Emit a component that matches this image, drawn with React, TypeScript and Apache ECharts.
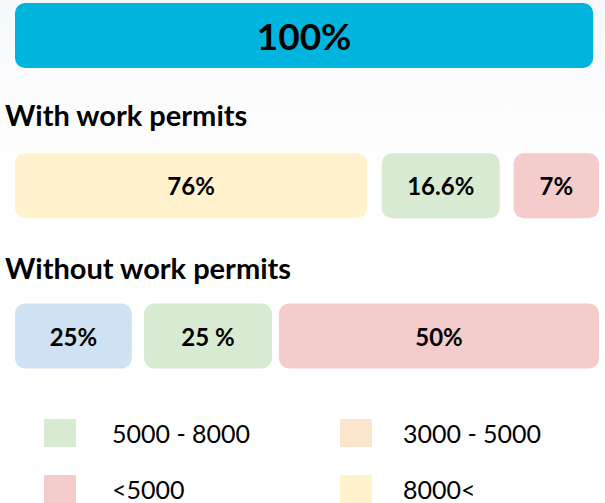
import React, { useEffect, useRef } from "react";
import * as echarts from "echarts";

// Rows of the chart (top to bottom)
const rows = ["Total", "With work permits", "Without work permits"];

// Segment extents on a 0–100 scale (as drawn), with their labels
const totalSpans = [[0, 99.0]];
const totalLabels = ["100%"];

const withPermitSpans = [[0, 60.3], [62.8, 83.0], [85.4, 100]];
const withPermitLabels = ["76%", "16.6%", "7%"];
const withPermitGroups = ["8000<", "5000 - 8000", "<5000"];

const withoutPermitSpans = [[0, 20.0], [22.1, 44.0], [45.2, 100]];
const withoutPermitLabels = ["25%", "25 %", "50%"];
const withoutPermitGroups = ["Other", "5000 - 8000", "<5000"];

// Salary groups and their colours
const groupNames = ["Total", "8000<", "5000 - 8000", "<5000", "3000 - 5000", "Other"];
const groupColors = ["#00B5DD", "#FFF2CC", "#D9EAD3", "#F4CCCC", "#FCE5CD", "#CFE2F3"];

const legendLeft = ["5000 - 8000", "<5000"];
const legendRight = ["3000 - 5000", "8000<"];

const FONT = "Lato, 'DejaVu Sans', sans-serif";

function buildData(group: string) {
  const out: any[] = [];
  if (group === "Total") {
    totalSpans.forEach((s, i) => out.push({ value: [s[0], s[1], rows[0]], label: totalLabels[i], big: true }));
  }
  withPermitGroups.forEach((g, i) => {
    if (g === group) out.push({ value: [withPermitSpans[i][0], withPermitSpans[i][1], rows[1]], label: withPermitLabels[i] });
  });
  withoutPermitGroups.forEach((g, i) => {
    if (g === group) out.push({ value: [withoutPermitSpans[i][0], withoutPermitSpans[i][1], rows[2]], label: withoutPermitLabels[i] });
  });
  return out;
}

export default function App() {
  const ref = useRef<HTMLDivElement>(null);
  useEffect(() => {
    if (!ref.current) return;
    const chart = echarts.init(ref.current, null, { renderer: "svg" });
    const series = groupNames.map((name, gi) => {
      const data = buildData(name);
      return {
        type: "custom",
        name,
        itemStyle: { color: groupColors[gi] },
        encode: { x: [0, 1], y: 2 },
        data,
        renderItem: (params: any, api: any) => {
          const item = data[params.dataIndex];
          const p1 = api.coord([api.value(0), api.value(2)]);
          const p2 = api.coord([api.value(1), api.value(2)]);
          const h = 65;
          return {
            type: "rect",
            shape: { x: p1[0], y: p1[1] - h / 2, width: p2[0] - p1[0], height: h, r: 10 },
            style: { fill: api.visual("color") },
            textContent: {
              style: {
                text: item.label,
                fill: "#000",
                fontFamily: FONT,
                fontWeight: "bold",
                fontSize: item.big ? 37 : 24,
              },
            },
            textConfig: { position: "inside" },
          };
        },
      };
    });
    chart.setOption({
      animation: false,
      backgroundColor: {
        type: "linear",
        x: 0, y: 0, x2: 0, y2: 1,
        colorStops: [
          { offset: 0, color: "#F7F8FA" },
          { offset: 0.35, color: "#FFFFFF" },
          { offset: 1, color: "#FFFFFF" },
        ],
      },
      title: [
        { text: rows[1], left: 5, top: 100, padding: 0, textStyle: { fontFamily: FONT, fontSize: 29, fontWeight: "bold", color: "#000" } },
        { text: rows[2], left: 5, top: 253, padding: 0, textStyle: { fontFamily: FONT, fontSize: 29, fontWeight: "bold", color: "#000" } },
      ],
      legend: [
        {
          data: legendLeft, left: 44, top: 419, orient: "vertical", icon: "rect",
          itemWidth: 32, itemHeight: 28, itemGap: 28, padding: 0,
          textStyle: { fontFamily: FONT, fontSize: 25, color: "#000", padding: [0, 0, 0, 31] },
          selectedMode: false,
        },
        {
          data: legendRight, left: 340, top: 419, orient: "vertical", icon: "rect",
          itemWidth: 32, itemHeight: 28, itemGap: 28, padding: 0,
          textStyle: { fontFamily: FONT, fontSize: 25, color: "#000", padding: [0, 0, 0, 26] },
          selectedMode: false,
        },
      ],
      grid: { left: 15, right: 6, top: 35.5, bottom: 167 },
      xAxis: { type: "value", min: 0, max: 100, show: false },
      yAxis: { type: "category", data: rows, inverse: true, boundaryGap: false, show: false },
      series,
    });
    return () => chart.dispose();
  }, []);
  return <div ref={ref} style={{ position: "absolute", left: 0, top: 0, width: 605, height: 503 }} />;
}
